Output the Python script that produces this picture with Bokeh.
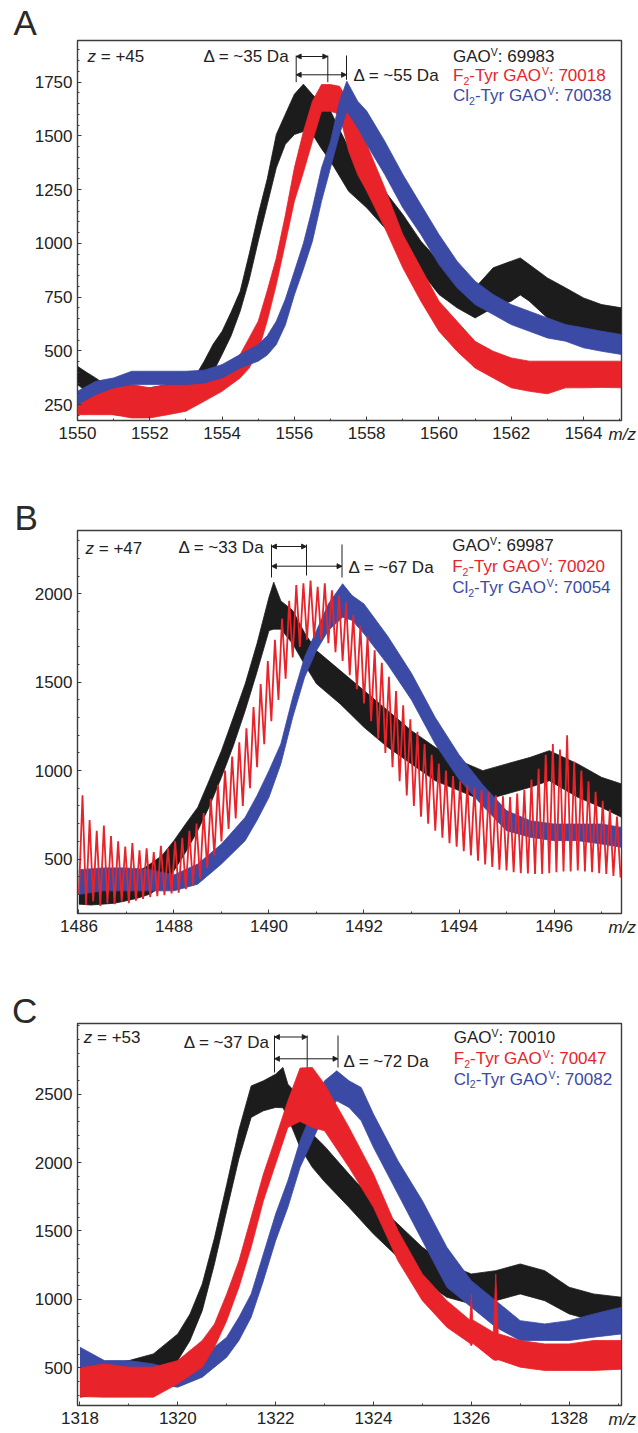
from bokeh.plotting import figure
from bokeh.layouts import column
from bokeh.models import Range1d, FixedTicker, Label, Arrow, NormalHead
from bokeh.embed import file_html
from bokeh.resources import INLINE

# ---------------- data ----------------
# Panel A  (z = +45)
A_x_black = [1550.0, 1550.25, 1550.5, 1550.75, 1551.0, 1551.5, 1552.0, 1552.5, 1553.0, 1553.25,
             1553.5, 1553.75, 1554.0, 1554.25, 1554.5, 1554.75, 1555.0, 1555.25, 1555.5, 1555.75,
             1556.0, 1556.25, 1556.5, 1556.75, 1557.0, 1557.5, 1558.0, 1558.5, 1559.0, 1559.5,
             1560.0, 1560.5, 1561.0, 1561.5, 1562.0, 1562.25, 1562.5, 1563.0, 1563.5, 1564.0,
             1564.5, 1565.05]
A_lo_black = [343, 310, 265, 220, 203, 196, 203, 211, 234, 250, 330, 400, 483, 570, 684, 830, 1010, 1180, 1351, 1460,
              1506, 1520, 1507, 1440, 1382, 1242, 1165, 1072, 979, 870, 762, 700, 653, 700, 731, 760, 731, 653, 622, 591,
              576, 576]
A_hi_black = [428, 400, 374, 345, 328, 312, 328, 343, 343, 380, 450, 530, 591, 680, 777, 950, 1134, 1300, 1506, 1600,
              1693, 1740, 1692, 1650, 1615, 1444, 1351, 1243, 1134, 1010, 917, 840, 793, 886, 917, 932, 901, 839, 793, 746,
              715, 700]
A_x_red = [1550.0, 1550.5, 1551.0, 1551.5, 1552.0, 1552.5, 1553.0, 1553.5, 1554.0, 1554.5,
           1554.75, 1555.0, 1555.25, 1555.5, 1555.75, 1556.0, 1556.25, 1556.5, 1556.75, 1557.0,
           1557.25, 1557.5, 1557.75, 1558.0, 1558.5, 1559.0, 1559.5, 1560.0, 1560.5, 1561.0,
           1561.5, 1562.0, 1562.5, 1563.0, 1563.5, 1564.0, 1564.5, 1565.05]
A_lo_red = [203, 203, 203, 188, 188, 203, 219, 265, 312, 374, 420, 498, 640, 808, 1000, 1196, 1330, 1475, 1614, 1614,
            1600, 1429, 1320, 1243, 1072, 886, 731, 591, 498, 420, 374, 328, 312, 300, 328, 328, 330, 328]
A_hi_red = [296, 312, 343, 343, 328, 343, 358, 374, 420, 483, 560, 638, 780, 932, 1130, 1351, 1520, 1661, 1738, 1738,
            1730, 1661, 1537, 1460, 1258, 1041, 886, 731, 637, 544, 498, 467, 452, 452, 452, 452, 452, 452]
A_x_blue = [1550.0, 1550.5, 1551.0, 1551.5, 1552.0, 1552.5, 1553.0, 1553.5, 1554.0, 1554.5,
            1555.0, 1555.25, 1555.5, 1555.75, 1556.0, 1556.25, 1556.5, 1556.75, 1557.0, 1557.25,
            1557.45, 1557.75, 1558.0, 1558.5, 1559.0, 1559.5, 1560.0, 1560.5, 1561.0, 1561.5,
            1562.0, 1562.5, 1563.0, 1563.5, 1564.0, 1564.5, 1565.05]
A_lo_blue = [250, 296, 328, 343, 343, 343, 343, 350, 374, 420, 452, 480, 529, 620, 760, 880, 1010, 1195, 1351, 1506,
             1615, 1537, 1460, 1320, 1165, 1041, 901, 793, 715, 669, 622, 591, 560, 545, 514, 498, 483]
A_hi_blue = [312, 358, 374, 405, 405, 405, 405, 410, 436, 483, 529, 570, 638, 740, 870, 1000, 1165, 1350, 1475, 1661,
             1754, 1661, 1615, 1475, 1320, 1180, 1041, 917, 824, 762, 715, 684, 653, 622, 607, 591, 576]

# Panel B  (z = +47)
B_x_black = [1486.0, 1486.25, 1486.5, 1486.75, 1487.0, 1487.25, 1487.5, 1487.75, 1488.0, 1488.25,
             1488.5, 1488.75, 1489.0, 1489.25, 1489.5, 1489.75, 1490.0, 1490.1, 1490.25, 1490.5,
             1490.75, 1491.0, 1491.5, 1492.0, 1492.5, 1493.0, 1493.5, 1494.0, 1494.5, 1495.0,
             1495.5, 1495.9, 1496.5, 1497.0, 1497.42]
B_lo_black = [245, 240, 245, 250, 264, 280, 302, 350, 434, 540, 660, 800, 962, 1140, 1340, 1560, 1792, 1800, 1800, 1717,
              1600, 1491, 1377, 1245, 1132, 1038, 943, 887, 830, 868, 906, 943, 849, 792, 736]
B_hi_black = [434, 400, 377, 380, 396, 430, 472, 520, 604, 700, 792, 950, 1113, 1300, 1491, 1720, 1981, 2066, 1960, 1906,
              1780, 1679, 1566, 1453, 1340, 1226, 1132, 1057, 1000, 1038, 1075, 1113, 1038, 962, 925]
B_x_blue = [1486.0, 1486.5, 1487.0, 1487.5, 1488.0, 1488.5, 1489.0, 1489.5, 1489.75, 1490.0,
            1490.25, 1490.5, 1490.75, 1491.0, 1491.25, 1491.55, 1491.75, 1492.0, 1492.5, 1493.0,
            1493.5, 1494.0, 1494.5, 1495.0, 1495.5, 1496.0, 1496.5, 1497.0, 1497.42]
B_lo_blue = [300, 320, 320, 320, 320, 358, 472, 604, 720, 849, 1038, 1302, 1528, 1679, 1792, 1868, 1850, 1774, 1600, 1400,
             1150, 950, 800, 660, 623, 604, 604, 585, 566]
B_hi_blue = [440, 450, 450, 440, 410, 472, 585, 736, 860, 1000, 1151, 1415, 1642, 1792, 1943, 2057, 1990, 1943, 1760, 1550,
             1300, 1090, 920, 774, 717, 698, 698, 698, 679]
# red trace of panel B: alternating troughs / peaks of its regular ripple
B_x_red = [1486.000, 1486.075, 1486.150, 1486.225, 1486.300, 1486.375, 1486.450, 1486.525, 1486.600, 1486.675,
           1486.750, 1486.825, 1486.900, 1486.975, 1487.050, 1487.125, 1487.200, 1487.275, 1487.350, 1487.425,
           1487.500, 1487.575, 1487.650, 1487.725, 1487.800, 1487.875, 1487.950, 1488.025, 1488.100, 1488.175,
           1488.250, 1488.325, 1488.400, 1488.475, 1488.550, 1488.625, 1488.700, 1488.775, 1488.850, 1488.925,
           1489.000, 1489.075, 1489.150, 1489.225, 1489.300, 1489.375, 1489.450, 1489.525, 1489.600, 1489.675,
           1489.750, 1489.825, 1489.900, 1489.975, 1490.050, 1490.125, 1490.200, 1490.275, 1490.350, 1490.425,
           1490.500, 1490.575, 1490.650, 1490.725, 1490.800, 1490.875, 1490.950, 1491.025, 1491.100, 1491.175,
           1491.250, 1491.325, 1491.400, 1491.475, 1491.550, 1491.625, 1491.700, 1491.775, 1491.850, 1491.925,
           1492.000, 1492.075, 1492.150, 1492.225, 1492.300, 1492.375, 1492.450, 1492.525, 1492.600, 1492.675,
           1492.750, 1492.825, 1492.900, 1492.975, 1493.050, 1493.125, 1493.200, 1493.275, 1493.350, 1493.425,
           1493.500, 1493.575, 1493.650, 1493.725, 1493.800, 1493.875, 1493.950, 1494.025, 1494.100, 1494.175,
           1494.250, 1494.325, 1494.400, 1494.475, 1494.550, 1494.625, 1494.700, 1494.775, 1494.850, 1494.925,
           1495.000, 1495.075, 1495.150, 1495.225, 1495.300, 1495.375, 1495.450, 1495.525, 1495.600, 1495.675,
           1495.750, 1495.825, 1495.900, 1495.975, 1496.050, 1496.125, 1496.200, 1496.275, 1496.350, 1496.425,
           1496.500, 1496.575, 1496.650, 1496.725, 1496.800, 1496.875, 1496.950, 1497.025, 1497.100, 1497.175,
           1497.250, 1497.325, 1497.400]
B_y_red = [300, 860, 240, 720, 260, 660, 235, 690, 250, 630, 245, 600, 260, 570, 250, 590, 265, 550, 275, 560,
           285, 540, 290, 575, 295, 560, 305, 600, 310, 620, 330, 660, 350, 700, 390, 760, 450, 840, 520, 920,
           600, 1000, 670, 1080, 730, 1160, 800, 1240, 900, 1360, 1020, 1490, 1150, 1620, 1280, 1740, 1400, 1860, 1520, 1960,
           1640, 2050, 1700, 2060, 1740, 2075, 1750, 2040, 1740, 2060, 1720, 2020, 1670, 1990, 1620, 1950, 1540, 1880, 1460, 1820,
           1380, 1760, 1280, 1680, 1180, 1610, 1100, 1530, 1020, 1450, 940, 1370, 860, 1290, 800, 1220, 740, 1150, 700, 1090,
           660, 1040, 620, 1000, 590, 970, 570, 940, 545, 920, 520, 905, 490, 890, 470, 880, 455, 860, 440, 855,
           435, 850, 425, 870, 420, 890, 418, 950, 415, 1010, 415, 1090, 420, 1150, 425, 1120, 430, 1200, 430, 1050,
           435, 1000, 430, 940, 425, 880, 420, 830, 415, 780, 405, 740, 396]

# Panel C  (z = +53)
C_x_black = [1318.0, 1318.5, 1319.0, 1319.5, 1320.0, 1320.25, 1320.5, 1320.75, 1321.0, 1321.25,
             1321.5, 1321.75, 1322.0, 1322.15, 1322.25, 1322.5, 1322.75, 1323.0, 1323.5, 1324.0,
             1324.5, 1325.0, 1325.5, 1326.0, 1326.5, 1327.0, 1327.5, 1328.0, 1328.5, 1329.07]
C_lo_black = [286, 310, 359, 408, 554, 700, 918, 1260, 1650, 2030, 2330, 2378, 2403, 2400, 2330, 2111, 1965, 1860, 1673, 1478,
              1308, 1137, 1016, 967, 991, 1040, 991, 894, 845, 821]
C_hi_black = [481, 520, 553, 602, 748, 894, 1113, 1450, 1840, 2240, 2560, 2597, 2646, 2695, 2573, 2475, 2208, 2120, 1916, 1721,
              1551, 1381, 1259, 1186, 1210, 1259, 1210, 1089, 1040, 1016]
C_x_red = [1318.0, 1318.5, 1319.0, 1319.5, 1320.0, 1320.5, 1320.75, 1321.0, 1321.25, 1321.5,
           1321.75, 1322.0, 1322.25, 1322.5, 1322.75, 1323.0, 1323.5, 1324.0, 1324.5, 1325.0,
           1325.5, 1325.97, 1326.0, 1326.03, 1326.45, 1326.5, 1326.55, 1327.0, 1327.5, 1328.0,
           1328.5, 1329.07]
C_lo_red = [290, 286, 286, 286, 383, 505, 651, 845, 1089, 1381, 1721, 1990, 2257, 2300, 2257, 2232, 1965, 1673, 1283, 991,
            797, 680, 660, 680, 560, 554, 560, 505, 481, 481, 481, 490]
C_hi_red = [500, 529, 505, 505, 553, 700, 821, 1040, 1283, 1600, 1916, 2180, 2451, 2690, 2695, 2573, 2257, 1916, 1503, 1186,
            991, 850, 1040, 850, 760, 1186, 750, 700, 675, 675, 700, 700]
C_x_blue = [1318.0, 1318.5, 1319.0, 1319.5, 1320.0, 1320.5, 1321.0, 1321.25, 1321.5, 1321.75,
            1322.0, 1322.25, 1322.5, 1322.75, 1323.0, 1323.25, 1323.5, 1323.75, 1324.0, 1324.5,
            1325.0, 1325.5, 1326.0, 1326.5, 1327.0, 1327.5, 1328.0, 1328.5, 1329.07]
C_lo_blue = [408, 359, 383, 383, 359, 432, 578, 700, 870, 1137, 1429, 1673, 1965, 2159, 2354, 2451, 2403, 2305, 2111, 1770,
             1429, 1089, 943, 797, 700, 700, 700, 724, 748]
C_hi_blue = [651, 553, 553, 529, 481, 578, 724, 870, 1040, 1332, 1624, 1867, 2159, 2378, 2597, 2670, 2597, 2548, 2354, 2013,
             1721, 1381, 1137, 991, 845, 821, 845, 894, 943]

# axis ticks
A_xticks = [1550, 1552, 1554, 1556, 1558, 1560, 1562, 1564]
A_yticks = [250, 500, 750, 1000, 1250, 1500, 1750]
B_xticks = [1486, 1488, 1490, 1492, 1494, 1496]
B_yticks = [500, 1000, 1500, 2000]
C_xticks = [1318, 1320, 1322, 1324, 1326, 1328]
C_yticks = [500, 1000, 1500, 2000, 2500]

# texts
panel_letters = ["A", "B", "C"]
charges = ["+45", "+47", "+53"]
delta_small = ["~35", "~33", "~37"]
delta_large = ["~55", "~67", "~72"]
masses_wt = ["69983", "69987", "70010"]
masses_f2 = ["70018", "70020", "70047"]
masses_cl2 = ["70038", "70054", "70082"]

# ---------------- style ----------------
FONT = "Liberation Sans"
BLACK = "#1c1c1c"
RED = "#e8232a"
BLUE = "#3a4aa5"
TXT = "#222222"
FRAME = "#3c3c3c"
FS = 17
FL, FR = 77.0, 621.0   # frame left / right (page px)
BASE_FIX = 0.31        # renderer puts the alphabetic baseline this many em lower

ADV = {' ': 278, ':': 278, '-': 333, '=': 584, '~': 584, '+': 584, '/': 278,
       'A': 667, 'C': 722, 'D': 722, 'F': 611, 'G': 778, 'O': 778, 'T': 611, 'V': 667,
       'a': 556, 'l': 222, 'r': 333, 'y': 500, 'z': 500, 'm': 833}


def tw(s, size):
    return sum(ADV.get(ch, 556) for ch in s) / 1000.0 * size


SPECS = [
    dict(h=470, bt=40, bb=50, ft=40, fb=420, xr=(1550.0, 1565.05), yr=(176, 1943),
         xt=A_xticks, yt=A_yticks, ymin=50,
         series=[(A_x_black, A_lo_black, A_hi_black, BLACK), (A_x_red, A_lo_red, A_hi_red, RED),
                 (A_x_blue, A_lo_blue, A_hi_blue, BLUE)], zig=None,
         letter=(13, 33), mz_side="below", z=(87, 61), d1=(203, 61.5), d2=(353, 80.5),
         leg=(452.5, [61, 80.5, 100.5]),
         br=dict(L=295.7, M=327.3, R=346.0, a1=56, a2=74.3, top=55, botL=81.7, botM=81.7, botR=79.3)),
    dict(h=493, bt=60, bb=50, ft=530, fb=913, xr=(1485.97, 1497.42), yr=(192, 2358),
         xt=B_xticks, yt=B_yticks, ymin=100,
         series=[(B_x_black, B_lo_black, B_hi_black, BLACK), (B_x_blue, B_lo_blue, B_hi_blue, BLUE)],
         zig=(B_x_red, B_y_red, RED),
         letter=(14, 528), mz_side="below", z=(85, 553), d1=(178, 552), d2=(348, 572),
         leg=(451.7, [550.7, 571.7, 592.7]),
         br=dict(L=271.0, M=306.0, R=341.5, a1=546, a2=565.7, top=544, botL=577, botM=575, botR=577)),
    dict(h=470, bt=60, bb=28, ft=1023, fb=1405, xr=(1317.95, 1329.07), yr=(225, 3016),
         xt=C_xticks, yt=C_yticks, ymin=100,
         series=[(C_x_black, C_lo_black, C_hi_black, BLACK), (C_x_blue, C_lo_blue, C_hi_blue, BLUE),
                 (C_x_red, C_lo_red, C_hi_red, RED)], zig=None,
         letter=(11.5, 1021), mz_side="above", z=(83.3, 1042), d1=(183.3, 1047), d2=(343, 1066),
         leg=(453.3, [1042.7, 1063.3, 1084]),
         br=dict(L=274.0, M=306.7, R=337.5, a1=1036.5, a2=1058.3, top=1035, botL=1072, botM=1067, botR=1067)),
]


def build(i, s):
    p = figure(width=638, height=s['h'], x_range=Range1d(*s['xr']), y_range=Range1d(*s['yr']),
               output_backend="svg", toolbar_location=None,
               min_border_left=77, min_border_right=17, min_border_top=s['bt'], min_border_bottom=s['bb'])
    p.xgrid.visible = False
    p.ygrid.visible = False
    p.outline_line_color = FRAME
    p.outline_line_width = 1.4
    p.background_fill_color = "white"
    p.border_fill_color = "white"

    p.xaxis.ticker = FixedTicker(ticks=s['xt'], minor_ticks=[t + 1 for t in s['xt']])
    ys = s['yt']
    step = s['ymin']
    yminor = []
    v = ys[0] - 2 * step
    while v < s['yr'][1]:
        if v > s['yr'][0]:
            yminor.append(v)
        v += step
    p.yaxis.ticker = FixedTicker(ticks=ys, minor_ticks=yminor)
    for ax in (p.xaxis, p.yaxis):
        ax.axis_line_color = None
        ax.major_tick_in = 4
        ax.major_tick_out = 0
        ax.minor_tick_in = 2
        ax.minor_tick_out = 0
        ax.major_tick_line_color = FRAME
        ax.minor_tick_line_color = FRAME
        ax.major_label_text_font = FONT
        ax.major_label_text_font_size = f"{FS}px"
        ax.major_label_text_color = TXT
    p.xaxis.major_label_standoff = 6
    p.yaxis.major_label_standoff = 5

    for xs, lo, hi, c in s['series']:
        p.varea(x=xs, y1=lo, y2=hi, fill_color=c, fill_alpha=1.0)
        p.line(x=xs, y=lo, line_color=c, line_width=0.8)
        p.line(x=xs, y=hi, line_color=c, line_width=0.8)
    if s['zig'] is not None:
        xs, ys_, c = s['zig']
        p.line(x=xs, y=ys_, line_color=c, line_width=1.8)

    fb, ft = s['fb'], s['ft']

    def dx(px):
        return s['xr'][0] + (px - FL) / (FR - FL) * (s['xr'][1] - s['xr'][0])

    def dy(py):
        return s['yr'][0] + (fb - py) / (fb - ft) * (s['yr'][1] - s['yr'][0])

    def lab(px, py, text, color=TXT, size=FS, style="normal"):
        py = py - BASE_FIX * size
        p.add_layout(Label(x=px - FL, y=fb - py, x_units="screen", y_units="screen", text=text,
                           text_font=FONT, text_font_size=f"{size}px", text_font_style=style,
                           text_color=color, text_align="left", text_baseline="alphabetic"))

    def outside(px, py, text, side, size=FS, style="normal", color=TXT):
        # label living in a side panel (not clipped to the frame), placed in data units
        py = py - BASE_FIX * size
        p.add_layout(Label(x=dx(px), y=dy(py), x_units="data", y_units="data", text=text,
                           text_font=FONT, text_font_size=f"{size}px", text_font_style=style,
                           text_color=color, text_align="left", text_baseline="alphabetic"), side)

    # panel letter and m/z
    outside(s['letter'][0], s['letter'][1], panel_letters[i], "above", size=35, color="#2a2a2a")
    outside(608, fb + 19.5, "m/z", s['mz_side'], style="italic")

    # charge state
    zx, zy = s['z']
    lab(zx, zy, "z", style="italic")
    lab(zx + tw("z ", FS), zy, "= " + charges[i])
    # deltas
    lab(s['d1'][0], s['d1'][1], "\u0394 = " + delta_small[i] + " Da")
    lab(s['d2'][0], s['d2'][1], "\u0394 = " + delta_large[i] + " Da")

    # legend (rich text pieces)
    lx, bases = s['leg']
    lines = [
        ([("GAO", "n"), ("V", "sup"), (": " + masses_wt[i], "n")], TXT),
        ([("F", "n"), ("2", "sub"), ("-Tyr GAO", "n"), ("V", "sup"), (": " + masses_f2[i], "n")], RED),
        ([("Cl", "n"), ("2", "sub"), ("-Tyr GAO", "n"), ("V", "sup"), (": " + masses_cl2[i], "n")], BLUE),
    ]
    for (parts, col), base in zip(lines, bases):
        x = lx
        for txt, mode in parts:
            if mode == "n":
                size, off = FS, 0
            elif mode == "sup":
                size, off = 10.5, -6.5
            else:
                size, off = 10.5, 3
            lab(x, base + off, txt, color=col, size=size)
            x += tw(txt, size)

    # brackets and arrows
    b = s['br']
    p.segment(x0=[dx(b['L']), dx(b['M']), dx(b['R'])], y0=[dy(b['top'])] * 3,
              x1=[dx(b['L']), dx(b['M']), dx(b['R'])], y1=[dy(b['botL']), dy(b['botM']), dy(b['botR'])],
              line_color=BLACK, line_width=1)
    for yy, xe in ((b['a1'], b['M']), (b['a2'], b['R'])):
        p.add_layout(Arrow(x_start=dx(b['L']), y_start=dy(yy), x_end=dx(xe), y_end=dy(yy),
                           start=NormalHead(size=5, line_color=BLACK, fill_color=BLACK, line_width=0.8),
                           end=NormalHead(size=5, line_color=BLACK, fill_color=BLACK, line_width=0.8),
                           line_color=BLACK, line_width=1))
    return p


figs = [build(i, s) for i, s in enumerate(SPECS)]
layout = column(*figs, spacing=0)
open("out.html", "w").write(file_html(layout, INLINE))
